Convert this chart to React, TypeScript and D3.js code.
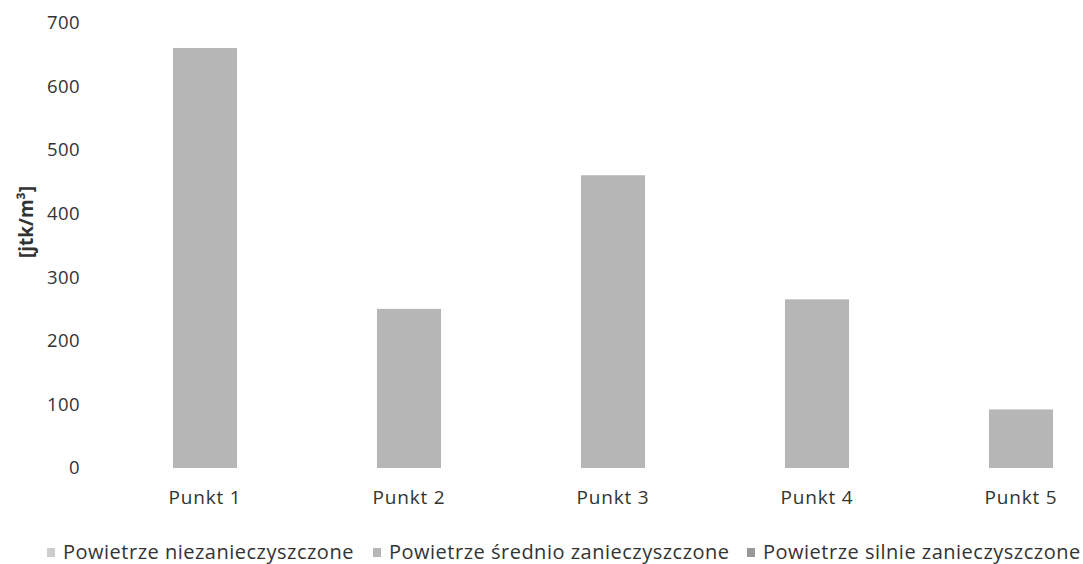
import React from "react";
import * as d3 from "d3";

const categories = ["Punkt 1", "Punkt 2", "Punkt 3", "Punkt 4", "Punkt 5"];
const seriesNames = [
  "Powietrze niezanieczyszczone",
  "Powietrze średnio zanieczyszczone",
  "Powietrze silnie zanieczyszczone",
];
const valuesNiezanieczyszczone = [0, 0, 0, 0, 0];
const valuesSrednio = [660, 250, 460, 265, 92];
const valuesSilnie = [0, 0, 0, 0, 0];
const yTicks = [0, 100, 200, 300, 400, 500, 600, 700];
const yTitle = "[jtk/m³]";

const W = 1083;
const H = 564;
const FONT = "'Open Sans', Lato, sans-serif";
const seriesColors = ["#cdcdcd", "#b6b6b6", "#999999"];
const legendX = [47, 373, 747];

export default function App() {
  const rows = categories.map((c, i) => ({
    cat: c,
    s0: valuesNiezanieczyszczone[i],
    s1: valuesSrednio[i],
    s2: valuesSilnie[i],
  }));
  const stack = d3.stack<any>().keys(["s0", "s1", "s2"]);
  const stacked = stack(rows);

  const x = d3
    .scaleBand<string>()
    .domain(categories)
    .range([103, 1123])
    .paddingInner(0.686)
    .paddingOuter(0.343);
  const y = d3.scaleLinear().domain([0, 700]).range([468, 22.5]);

  return (
    <svg
      width={W}
      height={H}
      style={{ position: "absolute", left: 0, top: 0, background: "#fff" }}
      fontFamily={FONT}
    >
      <rect x={0} y={0} width={W} height={H} fill="#fff" />
      {stacked.map((layer, si) =>
        layer.map((d, i) => {
          const h = y(d[0]) - y(d[1]);
          if (h <= 0) return null;
          return (
            <rect
              key={`${si}-${i}`}
              x={x(categories[i])}
              y={y(d[1])}
              width={x.bandwidth()}
              height={h}
              fill={seriesColors[si]}
            />
          );
        })
      )}
      {yTicks.map((t) => (
        <text
          key={t}
          x={80}
          y={y(t)}
          dy="0.35em"
          textAnchor="end"
          fontSize={18.5}
          letterSpacing={0.4}
          fill="#333"
        >
          {t}
        </text>
      ))}
      <text
        transform={`translate(26,${222}) rotate(-90)`}
        textAnchor="middle"
        fontSize={19}
        fontWeight="bold"
        fill="#333"
        dy="0.35em"
      >
        {yTitle}
      </text>
      {categories.map((c) => (
        <text
          key={c}
          x={(x(c) as number) + x.bandwidth() / 2}
          y={497}
          dy="0.35em"
          textAnchor="middle"
          fontSize={19}
          letterSpacing={0.8}
          fill="#333"
        >
          {c}
        </text>
      ))}
      {seriesNames.map((s, i) => (
        <g key={s}>
          <rect x={legendX[i]} y={548} width={8} height={9} fill={seriesColors[i]} />
          <text
            x={legendX[i] + 16}
            y={552}
            dy="0.35em"
            fontSize={20}
            letterSpacing={0.5}
            fill="#333"
          >
            {s}
          </text>
        </g>
      ))}
    </svg>
  );
}
